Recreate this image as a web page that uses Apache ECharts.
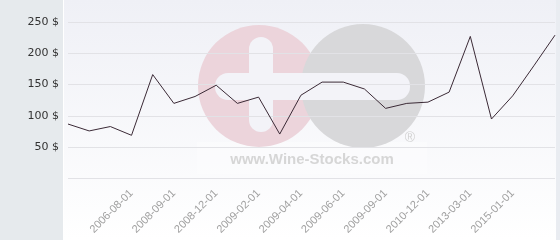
<!DOCTYPE html>
<html><head><meta charset="utf-8">
<script src="https://cdn.jsdelivr.net/npm/echarts@6/dist/echarts.min.js"></script>
<style>html,body{margin:0;padding:0;background:#fff}#c{width:560px;height:240px}</style>
</head><body><div id="c"></div>
<script>
const categories = ['', '', '', '2006-08-01', '', '2008-09-01', '', '2008-12-01', '', '2009-02-01', '', '2009-04-01', '', '2009-06-01', '', '2009-09-01', '', '2010-12-01', '', '2013-03-01', '', '2015-01-01', '', ''];
const prices = [87, 76, 83, 69, 166, 120, 131, 149, 120, 130, 71, 133, 154, 154, 143, 112, 120, 122, 138, 227, 95, 132, 180, 229];
const yTicks = [0, 50, 100, 150, 200, 250];

const chart = echarts.init(document.getElementById('c'), null, {renderer: 'canvas'});
chart.setOption({
  animation: false,
  backgroundColor: '#ffffff',
  graphic: [
    {type: 'rect', z: -10, shape: {x: 0, y: 0, width: 63, height: 240}, style: {fill: '#e6eaed'}},
    {type: 'rect', z: -10, shape: {x: 63, y: 0, width: 1, height: 240}, style: {fill: '#ffffff'}},
    {type: 'rect', z: -10, shape: {x: 64, y: 0, width: 492, height: 240},
      style: {fill: new echarts.graphic.LinearGradient(0, 0, 0, 1, [{offset: 0, color: '#eff0f6'}, {offset: 1, color: '#ffffff'}])}},
    {type: 'rect', z: -10, shape: {x: 556, y: 0, width: 4, height: 240}, style: {fill: '#e9ecf1'}},
    {type: 'circle', z: -5, shape: {cx: 259, cy: 86, r: 61}, style: {fill: '#ecd4db'}},
    {type: 'circle', z: -5, shape: {cx: 363, cy: 86, r: 62}, style: {fill: '#d8d8da'}},
    {type: 'rect', z: -5, shape: {x: 215, y: 73, width: 195, height: 27, r: 13}, style: {fill: '#f3f3f8'}},
    {type: 'rect', z: -5, shape: {x: 249, y: 37, width: 24, height: 95, r: 12}, style: {fill: '#f3f3f8'}},
    {type: 'text', z: -5, x: 410, y: 138, style: {text: '®', fill: '#d2d2d2', font: '14px "Liberation Sans", Arial', align: 'center', verticalAlign: 'middle'}},
    {type: 'rect', z: -6, shape: {x: 197, y: 142, width: 230, height: 32}, style: {fill: 'rgba(255,255,255,0.3)'}},
    {type: 'text', z: -5, x: 312, y: 160, style: {text: 'www.Wine-Stocks.com', fill: '#d6d6d6', font: 'bold 15px "Liberation Sans", Arial', align: 'center', verticalAlign: 'middle'}}
  ],
  grid: {left: 68, right: 5, top: 22, bottom: 61.5},
  xAxis: {
    type: 'category', data: categories, boundaryGap: false,
    axisLine: {show: false}, axisTick: {show: false}, splitLine: {show: false},
    axisLabel: {interval: 0, rotate: 45, margin: 13, color: '#a0a0a0', fontSize: 11, fontFamily: '"Liberation Sans", Arial'}
  },
  yAxis: {
    type: 'value', min: yTicks[0], max: yTicks[yTicks.length - 1], interval: 50,
    axisLine: {show: false}, axisTick: {show: false},
    splitLine: {show: true, lineStyle: {color: '#e2e2e6', width: 1}},
    axisLabel: {margin: 9, color: '#333333', fontSize: 11, fontFamily: '"DejaVu Sans"',
      formatter: v => v === 0 ? '' : v + ' $'}
  },
  series: [{
    type: 'line', data: prices, symbol: 'none', z: 5,
    lineStyle: {color: '#3b2a36', width: 1}
  }]
});
</script></body></html>
